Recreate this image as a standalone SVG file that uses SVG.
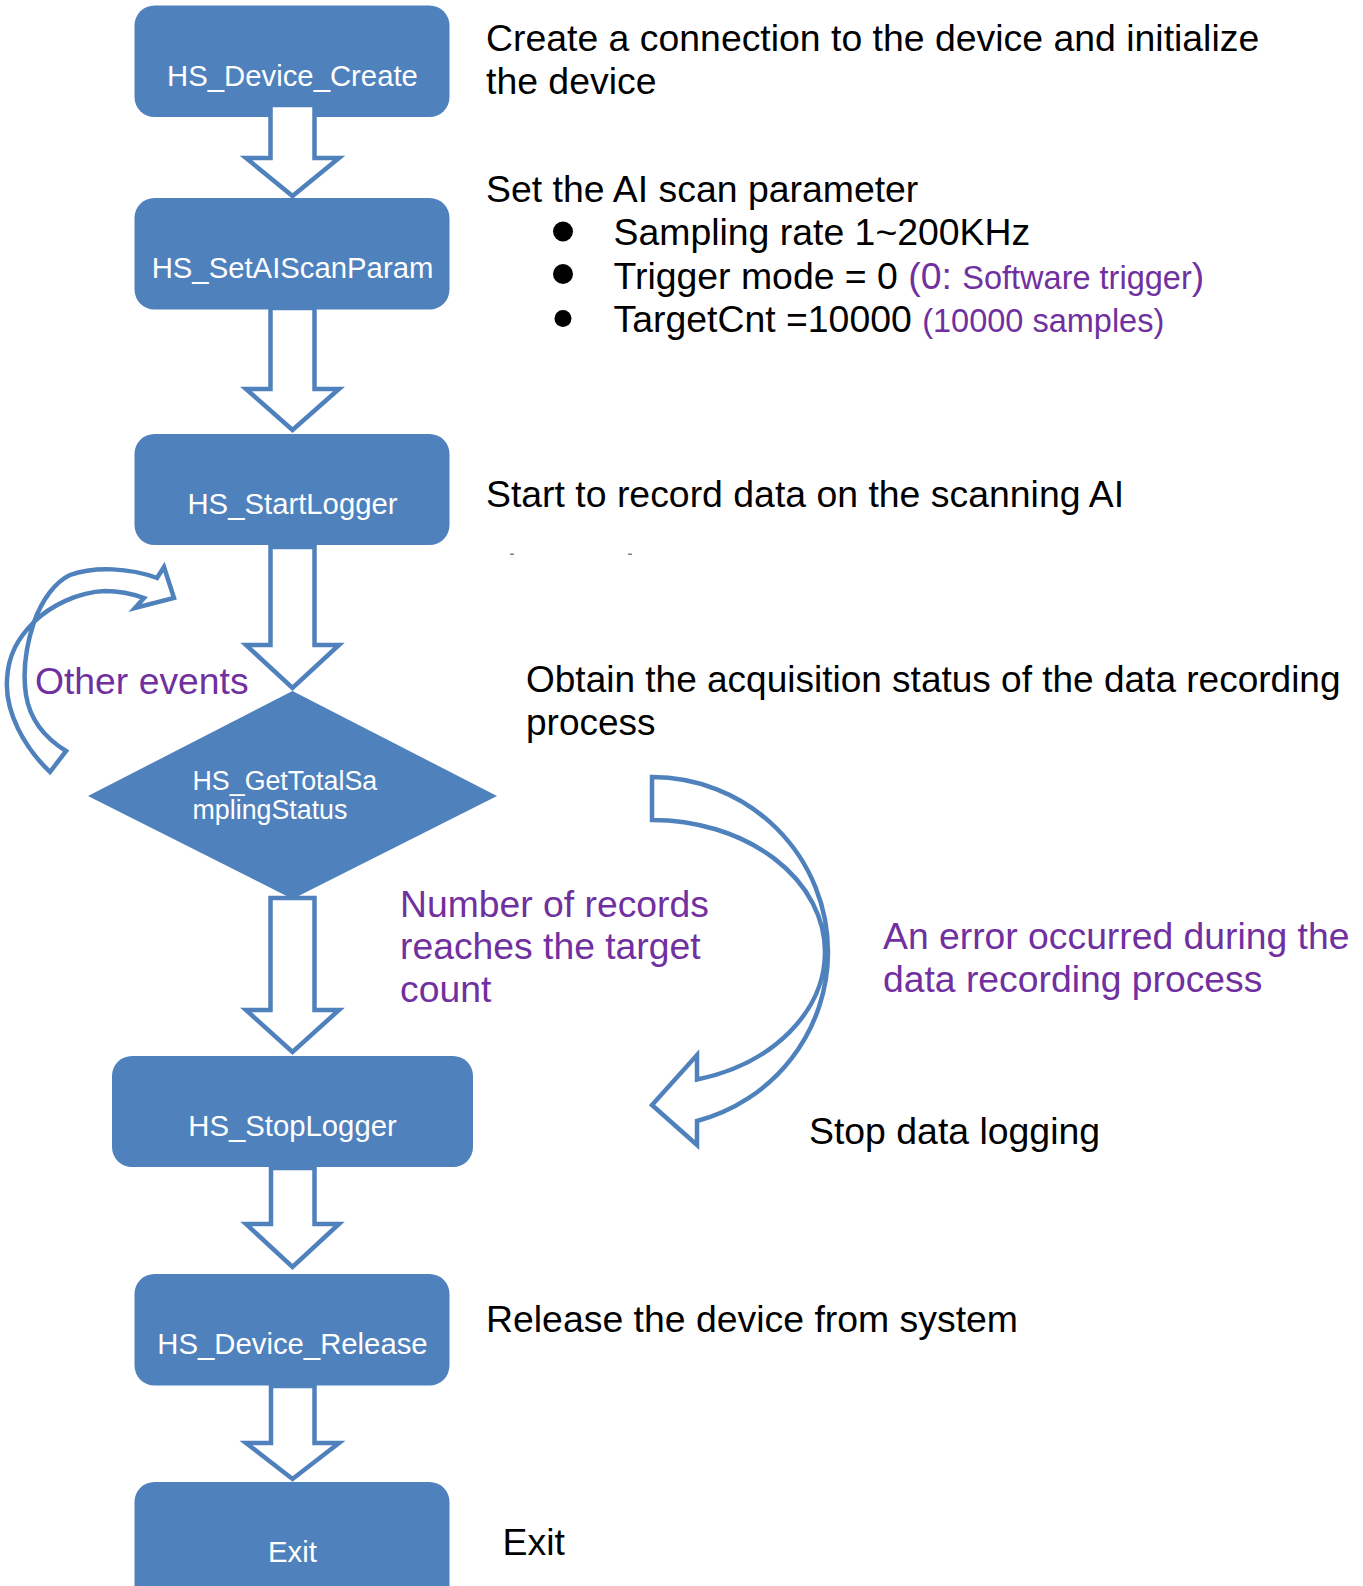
<svg xmlns="http://www.w3.org/2000/svg" width="1363" height="1586" viewBox="0 0 1363 1586">
<style>
.box{fill:#4F81BD;}
.lbl{font-family:"Liberation Sans",Arial,sans-serif;font-size:29.3px;fill:#FFFFFF;text-anchor:middle;}
.dlbl{font-family:"Liberation Sans",Arial,sans-serif;font-size:26.8px;fill:#FFFFFF;}
.arr{fill:#FFFFFF;stroke:#4F81BD;stroke-width:4.5;stroke-linejoin:miter;stroke-miterlimit:10;}
.t{font-family:"Liberation Sans",Arial,sans-serif;font-size:37.4px;fill:#000000;}
.p{font-family:"Liberation Sans",Arial,sans-serif;font-size:37.3px;fill:#7030A0;}
.ps{font-size:32.5px;fill:#7030A0;}
</style>
<rect width="1363" height="1586" fill="#FFFFFF"/>

<g id="node-device-create">
<rect class="box" x="134.5" y="5.5" width="315" height="111.5" rx="20"/>
<text class="lbl" x="292.5" y="86">HS_Device_Create</text>
</g>
<g id="node-setaiscanparam">
<rect class="box" x="134.5" y="198" width="315" height="111.5" rx="20"/>
<text class="lbl" x="292.5" y="277.5">HS_SetAIScanParam</text>
</g>
<g id="node-startlogger">
<rect class="box" x="134.5" y="434" width="315" height="111" rx="20"/>
<text class="lbl" x="292.5" y="513.5">HS_StartLogger</text>
</g>
<g id="node-gettotalsamplingstatus">
<polygon class="box" points="292.5,691 497,796 292.5,899 88,796"/>
<text class="dlbl" x="192.5" y="789.5">HS_GetTotalSa</text>
<text class="dlbl" x="192.5" y="819">mplingStatus</text>
</g>
<g id="node-stoplogger">
<rect class="box" x="112" y="1056" width="361" height="111" rx="20"/>
<text class="lbl" x="292.5" y="1136">HS_StopLogger</text>
</g>
<g id="node-device-release">
<rect class="box" x="134.5" y="1274" width="315" height="111.5" rx="20"/>
<text class="lbl" x="292.5" y="1353.5">HS_Device_Release</text>
</g>
<g id="node-exit">
<rect class="box" x="134.5" y="1482" width="315" height="130" rx="20"/>
<text class="lbl" x="292.5" y="1562">Exit</text>
</g>

<g id="connectors">
<polygon class="arr" points="270.5,105 270.5,158 246,158 292.5,196 339,158 314.5,158 314.5,105"/>
<polygon class="arr" points="270.5,308 270.5,389 246,389 292.5,430 339,389 314.5,389 314.5,308"/>
<polygon class="arr" points="270.5,547 270.5,645 246,645 292.5,688 339,645 314.5,645 314.5,547"/>
<polygon class="arr" points="270.5,898 270.5,1010 246,1010 292.5,1052 339,1010 314.5,1010 314.5,898"/>
<polygon class="arr" points="271,1168 271,1224 246,1224 292.5,1267 339,1224 314.5,1224 314.5,1168"/>
<polygon class="arr" points="271,1386 271,1443 246,1443 292.5,1479 339,1443 314.5,1443 314.5,1386"/>
<path class="arr" d="M 50,772 C 24,747 5,712 7,680 C 8,655 18,638 34,622 C 50,606 78,592 105,591 C 120,591 133,594 144,598 L 135,608 L 174,598 L 164,567 L 157,578 C 130,568 95,566 70,575 C 55,582 42,600 34,622 C 28,640 22,668 26,695 C 30,720 45,738 66,751 Z"/>
<path class="arr" d="M 652,777 A 176,175 0 0 1 828,952 A 176,175 0 0 1 697,1121 L 697,1145 L 652,1105 L 697,1055 L 697,1079.5 A 173,132 0 0 0 825,952 A 173,132 0 0 0 652,820 Z"/>
</g>

<g id="labels">
<text class="t" x="486" y="50.5">Create a connection to the device and initialize</text>
<text class="t" x="486" y="94">the device</text>
<text class="t" x="486" y="202">Set the AI scan parameter</text>
<circle cx="563" cy="231.5" r="10" fill="#000000"/>
<circle cx="563" cy="274" r="10" fill="#000000"/>
<circle cx="563" cy="318.5" r="8.5" fill="#000000"/>
<text class="t" x="613.5" y="245">Sampling rate 1~200KHz</text>
<text class="t" x="613.5" y="288.5">Trigger mode = 0 <tspan fill="#7030A0">(0: </tspan><tspan class="ps">Software trigger</tspan><tspan fill="#7030A0">)</tspan></text>
<text class="t" x="613.5" y="331.5">TargetCnt =10000 <tspan class="ps">(10000 samples)</tspan></text>
<text class="t" x="486" y="507">Start to record data on the scanning AI</text>
<rect x="510" y="553.5" width="4" height="1.5" fill="#808080"/>
<rect x="628" y="553.5" width="4" height="1.5" fill="#808080"/>
<text class="t" x="526" y="691.5" style="font-size:37px">Obtain the acquisition status of the data recording</text>
<text class="t" x="526" y="734.5" style="font-size:37px">process</text>
<text class="p" x="35" y="693.5">Other events</text>
<text class="p" x="400" y="916.5">Number of records</text>
<text class="p" x="400" y="959">reaches the target</text>
<text class="p" x="400" y="1001.5">count</text>
<text class="p" x="883" y="948.5">An error occurred during the</text>
<text class="p" x="883" y="991.5">data recording process</text>
<text class="t" x="809" y="1143.5">Stop data logging</text>
<text class="t" x="486" y="1332">Release the device from system</text>
<text class="t" x="502.5" y="1554.5">Exit</text>
</g>
</svg>
